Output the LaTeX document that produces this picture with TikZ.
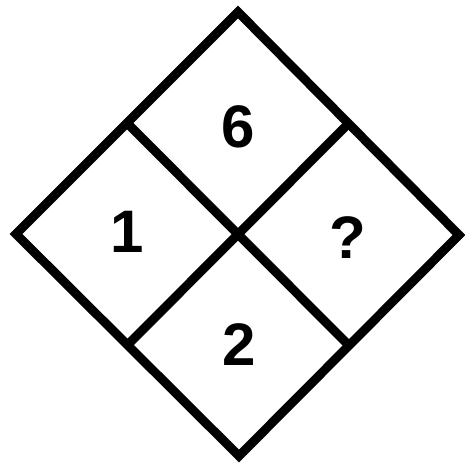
\documentclass[tikz,border=0pt]{standalone}
\usepackage{fontspec}
\setmainfont{Liberation Sans}
\usetikzlibrary{calc}
\begin{document}
\begin{tikzpicture}[x=1pt,y=-1pt,
  edge/.style={line width=9pt,line join=miter,black},
  num/.style={font=\fontsize{60}{60}\selectfont\bfseries,inner sep=0pt}]
\useasboundingbox (0,0) rectangle (464,465);
\coordinate (T) at (238,12);
\coordinate (L) at (16,234);
\coordinate (R) at (459,235);
\coordinate (B) at (239,456);
\coordinate (UL) at ($(T)!0.5!(L)$);
\coordinate (UR) at ($(T)!0.5!(R)$);
\coordinate (LL) at ($(L)!0.5!(B)$);
\coordinate (LR) at ($(R)!0.5!(B)$);
\draw[edge] (T) -- (R) -- (B) -- (L) -- cycle;
\draw[edge] (UL) -- (LR);
\draw[edge] (UR) -- (LL);
\node[num] (six) at (238,127) {6};
\node[num] (one) at (127,232) {1};
\node[num] (q) at (348,238) {?};
\node[num] (two) at (239,345) {2};
\end{tikzpicture}
\end{document}
